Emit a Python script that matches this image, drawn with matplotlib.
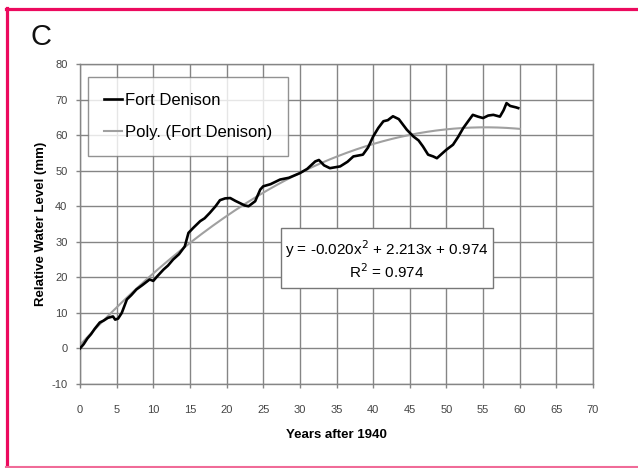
import matplotlib
matplotlib.use("Agg")
import matplotlib.pyplot as plt
from matplotlib.lines import Line2D
from matplotlib.patches import Rectangle
import numpy as np

plt.rcParams['font.family'] = ['Liberation Sans', 'DejaVu Sans']
plt.rcParams['axes.unicode_minus'] = False

years = [0, 0.5, 1, 1.5, 2, 2.7, 3.2, 3.8, 4.5, 4.8, 5.2, 5.7, 6.4, 7, 7.7, 8.5,
         9.5, 10, 10.5, 11.4, 12, 12.7, 13.5, 14.3, 14.8, 15.5, 16.4, 17, 17.7,
         18.5, 19.1, 19.8, 20.5, 21.2, 21.8, 22.5, 23, 23.9, 24.6, 25, 26, 27.3,
         28.5, 30, 31, 32.1, 32.6, 33.3, 34.1, 35.5, 36.5, 37.3, 38.6, 39.3, 40,
         40.7, 41.4, 42, 42.7, 43.5, 44.6, 45.5, 46.2, 46.8, 47.5, 48.2, 48.7,
         49.4, 50, 50.9, 51.6, 52.3, 53, 53.6, 54.3, 55, 55.7, 56.4, 57.3, 57.8,
         58.2, 58.7, 59.1, 59.5, 59.8]
levels = [0, 1.2, 2.8, 4.0, 5.5, 7.3, 7.8, 8.6, 9.0, 8.1, 8.4, 10.0, 13.8, 15.0,
          16.6, 17.8, 19.4, 19.0, 20.2, 22.2, 23.3, 25.0, 26.5, 28.7, 32.5, 34.0,
          35.8, 36.6, 38.1, 40.0, 41.7, 42.2, 42.3, 41.5, 40.9, 40.2, 40.0, 41.4,
          44.7, 45.6, 46.2, 47.5, 48.0, 49.3, 50.5, 52.6, 53.0, 51.5, 50.7, 51.2,
          52.5, 54.0, 54.5, 56.5, 59.6, 62.0, 63.9, 64.2, 65.3, 64.5, 61.5, 59.6,
          58.5, 56.8, 54.5, 54.0, 53.5, 54.8, 55.9, 57.3, 59.5, 62.0, 64.0, 65.7,
          65.2, 64.8, 65.5, 65.7, 65.2, 67.0, 69.0, 68.2, 68.0, 67.8, 67.6]

poly_coef = [-0.020, 2.213, 0.974]
r_squared = 0.974
x_ticks = [0, 5, 10, 15, 20, 25, 30, 35, 40, 45, 50, 55, 60, 65, 70]
y_ticks = [-10, 0, 10, 20, 30, 40, 50, 60, 70, 80]

W, H = 638, 468
fig = plt.figure(figsize=(W/100, H/100), dpi=100)
ax = fig.add_axes([80/W, 1-384/H, 513/W, 320/H])

def fx(px):
    return px / W

def fy(py):
    return 1 - py / H

grid_c = '#858585'
ax.set_xlim(0, 70)
ax.set_ylim(-10, 80)
ax.set_xticks(x_ticks)
ax.set_yticks(y_ticks)
ax.grid(True, color=grid_c, linewidth=1.0)
ax.set_axisbelow(True)
for s in ax.spines.values():
    s.set_color(grid_c)
    s.set_linewidth(1.0)
ax.tick_params(axis='both', direction='out', length=3, width=1.0, color=grid_c,
               labelsize=8, labelcolor='#444444')
ax.tick_params(axis='x', pad=12)
ax.tick_params(axis='y', pad=6)

xfit = np.linspace(0, 60, 200)
yfit = np.polyval(poly_coef, xfit)
ax.plot(years, levels, color='black', lw=1.9, label='Fort Denison', zorder=3)
ax.plot(xfit, yfit, color='#a0a0a0', lw=1.5, label='Poly. (Fort Denison)', zorder=2)

leg = ax.legend(loc='upper left', bbox_to_anchor=(8/513, 1-13/320), fontsize=12,
                frameon=True, fancybox=False, edgecolor='#777777',
                handlelength=1.1, handletextpad=0.15, borderpad=0.95,
                labelspacing=1.05, borderaxespad=0)
leg.get_frame().set_linewidth(1.0)

# equation box
fig.add_artist(Rectangle((fx(281), fy(288)), (493-281)/W, 60/H,
                         transform=fig.transFigure, fc='white', ec='#777777',
                         lw=1.0, zorder=5))
fig.text(fx(387), fy(249),
         f"y = {poly_coef[0]:.3f}x$^2$ + {poly_coef[1]:.3f}x + {poly_coef[2]:.3f}",
         ha='center', va='center', fontsize=11, zorder=6)
fig.text(fx(387), fy(272), f"R$^2$ = {r_squared:.3f}",
         ha='center', va='center', fontsize=11, zorder=6)

ax.set_xlabel('Years after 1940', fontsize=9.5, fontweight='bold', labelpad=10)
ax.set_ylabel('Relative Water Level (mm)', fontsize=9.5, fontweight='bold', labelpad=3)

fig.text(fx(31), fy(37), 'C', fontsize=21, ha='left', va='center', color='#111111')

pink = '#ec0a5e'
fig.add_artist(Line2D([fx(6), 1], [fy(8.5), fy(8.5)], color=pink, lw=2.3,
                      transform=fig.transFigure))
fig.add_artist(Line2D([fx(6.5), fx(6.5)], [fy(8), fy(467)], color=pink, lw=2.3,
                      transform=fig.transFigure))
fig.add_artist(Line2D([fx(6), 1], [fy(466.5), fy(466.5)], color='#f06b98', lw=1.5,
                      transform=fig.transFigure))

fig.savefig('out.png', dpi=100)
